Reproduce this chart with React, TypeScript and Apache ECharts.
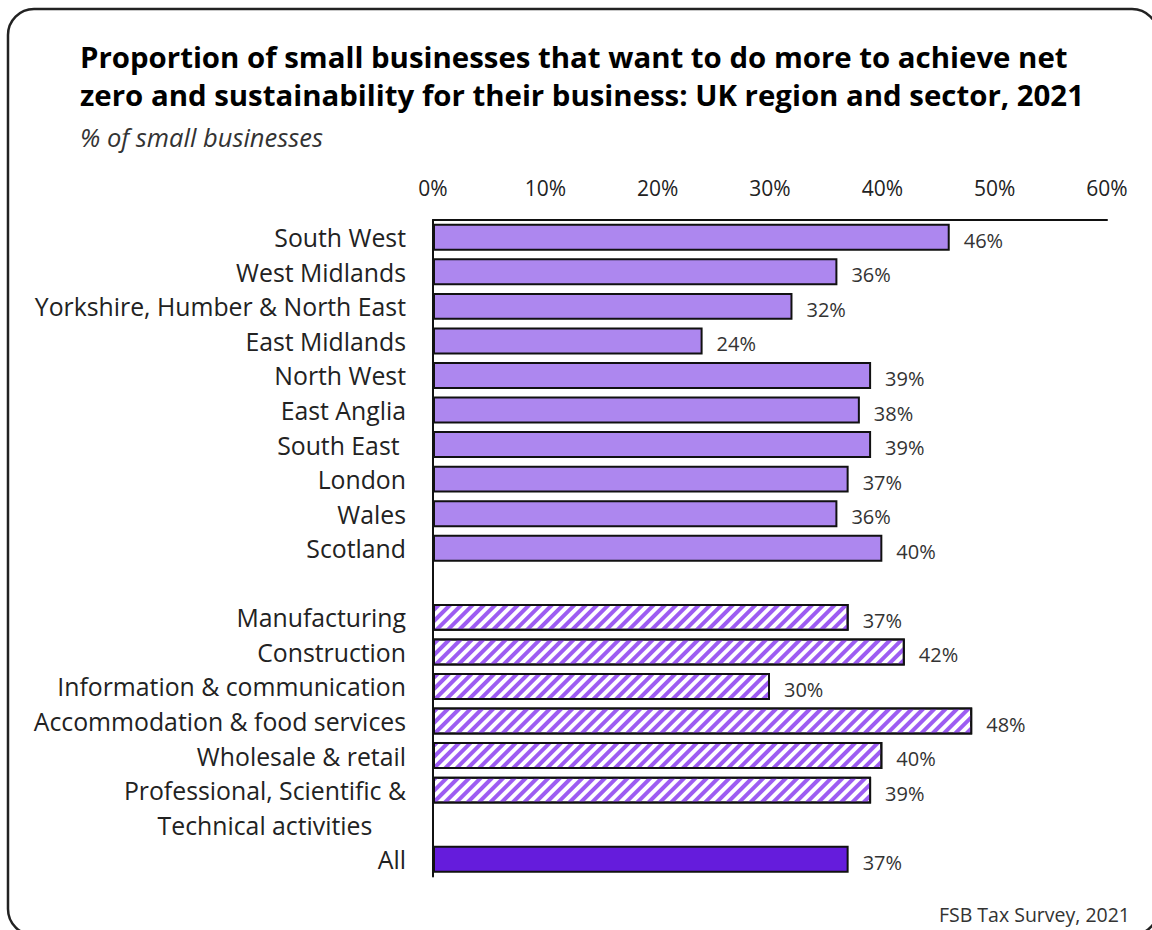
import React, { useEffect, useRef } from "react";
import * as echarts from "echarts";

const categories: string[] = [
  "South West",
  "West Midlands",
  "Yorkshire, Humber & North East",
  "East Midlands",
  "North West",
  "East Anglia",
  "South East ",
  "London",
  "Wales",
  "Scotland",
  "",
  "Manufacturing",
  "Construction",
  "Information & communication",
  "Accommodation & food services",
  "Wholesale & retail",
  "Professional, Scientific & Technical activities",
  " ",
  "All",
];

const regionValues: (number | null)[] = [46, 36, 32, 24, 39, 38, 39, 37, 36, 40, null, null, null, null, null, null, null, null, null];
const sectorValues: (number | null)[] = [null, null, null, null, null, null, null, null, null, null, null, 37, 42, 30, 48, 40, 39, null, null];
const allValues: (number | null)[] = [null, null, null, null, null, null, null, null, null, null, null, null, null, null, null, null, null, null, 37];

const tickValues = [0, 10, 20, 30, 40, 50, 60];

const TITLE = "Proportion of small businesses that want to do more to achieve net\nzero and sustainability for their business: UK region and sector, 2021";
const SUBTITLE = "% of small businesses";
const SOURCE = "FSB Tax Survey, 2021";

const FONT = "'Open Sans', 'Noto Sans', sans-serif";

export default function App() {
  const ref = useRef<HTMLDivElement>(null);
  useEffect(() => {
    document.body.style.margin = "0";
    if (!ref.current) return;
    const chart = echarts.init(ref.current, undefined, { renderer: "svg" });
    const labelCfg = {
      show: true,
      position: "right" as const,
      distance: 14,
      offset: [0, 3],
      formatter: (p: any) => `${p.value}%`,
      fontSize: 20,
      color: "#333",
      fontFamily: FONT,
    };
    chart.setOption({
      animation: false,
      textStyle: { fontFamily: FONT },
      title: [
        {
          text: TITLE,
          left: 75,
          top: 33,
          textStyle: { fontSize: 29.4, fontWeight: "bold", color: "#000", lineHeight: 38, fontFamily: FONT },
        },
        {
          text: SUBTITLE,
          left: 75,
          top: 119,
          textStyle: { fontSize: 25.5, fontStyle: "italic", fontWeight: "normal", color: "#333", fontFamily: FONT },
        },
        {
          text: SOURCE,
          right: 17,
          top: 899,
          textStyle: { fontSize: 19.5, fontWeight: "normal", color: "#333", fontFamily: FONT },
        },
      ],
      graphic: [
        {
          type: "rect",
          shape: { x: 8, y: 9, width: 1150, height: 926, r: 26 },
          style: { fill: "none", stroke: "#222", lineWidth: 2.5 },
          silent: true,
        },
      ],
      grid: { left: 433, right: 45, top: 220, bottom: 53.5, containLabel: false },
      xAxis: {
        type: "value",
        position: "top",
        min: tickValues[0],
        max: tickValues[tickValues.length - 1],
        interval: 10,
        axisLine: { show: true, lineStyle: { color: "#111", width: 2 } },
        axisTick: { show: false },
        splitLine: { show: false },
        axisLabel: { formatter: "{value}%", fontSize: 21, color: "#222", margin: 22, fontFamily: FONT },
      },
      yAxis: {
        type: "category",
        inverse: true,
        data: categories,
        axisLine: { show: true, lineStyle: { color: "#111", width: 2 } },
        axisTick: { show: false },
        axisLabel: {
          fontSize: 24.8,
          color: "#222",
          margin: 27,
          fontFamily: FONT,
          interval: 0,
          formatter: (v: string) => {
            if (v.startsWith("Professional")) {
              return "{p| }\n{p|Professional, Scientific &}\n{p|Technical activities}";
            }
            return v;
          },
          rich: {
            p: { fontSize: 24.8, color: "#222", lineHeight: 34.56, align: "center", fontFamily: FONT },
          },
        },
      },
      series: [
        {
          type: "bar",
          stack: "t",
          data: regionValues,
          barCategoryGap: "22%",
          itemStyle: { color: "#AD87EF", borderColor: "#111", borderWidth: 2 },
          label: labelCfg,
        },
        {
          type: "bar",
          stack: "t",
          data: sectorValues,
          itemStyle: {
            color: "#ffffff",
            borderColor: "#111",
            borderWidth: 2,
            decal: {
              symbol: "rect",
              symbolSize: 1,
              color: "#9D5CF2",
              dashArrayX: [1, 0],
              dashArrayY: [3.5, 4],
              rotation: -Math.PI / 4,
            },
          },
          label: labelCfg,
        },
        {
          type: "bar",
          stack: "t",
          data: allValues,
          itemStyle: { color: "#651CDC", borderColor: "#111", borderWidth: 2 },
          label: labelCfg,
        },
      ],
    });
    return () => chart.dispose();
  }, []);
  return <div ref={ref} style={{ width: 1152, height: 930 }} />;
}
